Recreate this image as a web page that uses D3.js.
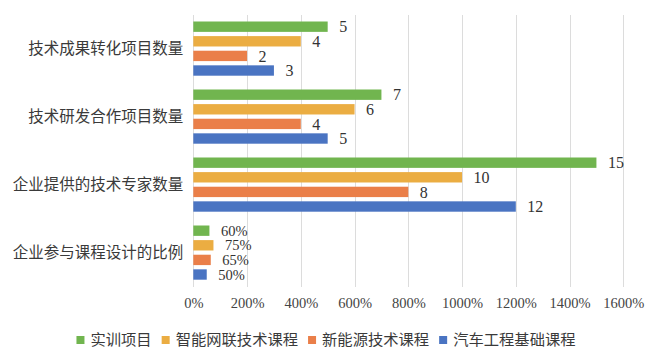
<!DOCTYPE html>
<html>
<head>
<meta charset="utf-8">
<script src="https://cdn.jsdelivr.net/npm/d3@7"></script>
<style>
  html, body { margin: 0; padding: 0; background: #fff; }
  svg { display: block; }
  .serif { font-family: "Liberation Serif", "Times New Roman", "DejaVu Serif", serif; }
  .cjk { font-family: "Noto Sans CJK SC", sans-serif; }
</style>
</head>
<body>
<svg id="chart" width="648" height="354"></svg>
<script>
const categories = ["技术成果转化项目数量", "技术研发合作项目数量", "企业提供的技术专家数量", "企业参与课程设计的比例"];
const seriesNames = ["实训项目", "智能网联技术课程", "新能源技术课程", "汽车工程基础课程"];
const shixun = [5, 7, 15, 0.6];
const zhineng = [4, 6, 10, 0.75];
const xinnengyuan = [2, 4, 8, 0.65];
const qiche = [3, 5, 12, 0.5];
const xTicks = [0, 2, 4, 6, 8, 10, 12, 14, 16];
const colors = ["#71b54f", "#ebad42", "#ea7f49", "#4a74c2"];

const seriesValues = [shixun, zhineng, xinnengyuan, qiche];
const svg = d3.select("#chart");

const x = d3.scaleLinear().domain([0, 16]).range([193.3, 623.3]);
const y = d3.scaleBand().domain(categories).range([15, 287]).paddingInner(0).paddingOuter(0);
const ySub = d3.scaleBand().domain(seriesNames).range([6.5, 60.7]).paddingInner(0.29).paddingOuter(0);

// gridlines
svg.append("g").selectAll("line").data(xTicks).join("line")
  .attr("x1", d => Math.round(x(d)) + 0.5).attr("x2", d => Math.round(x(d)) + 0.5)
  .attr("y1", 15).attr("y2", 287)
  .attr("stroke", "#dcdcdc").attr("stroke-width", 1);

// x axis labels
const xAxis = d3.axisBottom(x).tickValues(xTicks).tickFormat(d3.format(".0%")).tickSize(0).tickPadding(0);
const gx = svg.append("g").attr("transform", "translate(0,298)").call(xAxis);
gx.attr("font-family", null).attr("font-size", null);
gx.select(".domain").remove();
gx.selectAll("text")
  .attr("class", "serif")
  .style("font-size", "14.5px")
  .attr("fill", "#444")
  .attr("dy", "0.71em");

// y axis labels
const yAxis = d3.axisLeft(y).tickSize(0).tickPadding(10);
const gy = svg.append("g").attr("transform", "translate(193.3,0)").call(yAxis);
gy.attr("font-family", null).attr("font-size", null);
gy.select(".domain").remove();
gy.selectAll("text")
  .attr("class", "cjk")
  .style("font-size", "15.5px")
  .attr("fill", "#3a3a3a");

// bars
const fmt = v => v < 1 ? d3.format(".0%")(v) : String(v);
seriesNames.forEach((s, si) => {
  const g = svg.append("g");
  const data = categories.map((c, ci) => ({ c, v: seriesValues[si][ci] }));
  g.selectAll("rect").data(data).join("rect")
    .attr("x", x(0))
    .attr("y", d => y(d.c) + ySub(s))
    .attr("width", d => x(d.v) - x(0))
    .attr("height", ySub.bandwidth())
    .attr("fill", colors[si]);
  g.selectAll("text").data(data).join("text")
    .attr("class", "serif")
    .attr("x", d => x(d.v) + 11.5)
    .attr("y", d => y(d.c) + ySub(s) + ySub.bandwidth() / 2)
    .attr("dy", "0.35em")
    .style("font-size", d => d.v < 1 ? "14.5px" : "16px")
    .attr("fill", "#333")
    .text(d => fmt(d.v));
});

// legend
const legend = svg.append("g");
let lx = 0;
seriesNames.forEach((s, i) => {
  const item = legend.append("g");
  item.append("rect").attr("x", lx).attr("y", -4).attr("width", 8).attr("height", 8).attr("fill", colors[i]);
  const t = item.append("text").attr("class", "cjk").attr("x", lx + 14).attr("y", 0).attr("dy", "0.35em")
    .style("font-size", "15.3px").attr("fill", "#3a3a3a").text(s);
  lx += 14 + t.node().getComputedTextLength() + 10;
});
const totalW = lx - 10;
legend.attr("transform", `translate(${326 - totalW / 2},340)`);
</script>
</body>
</html>
